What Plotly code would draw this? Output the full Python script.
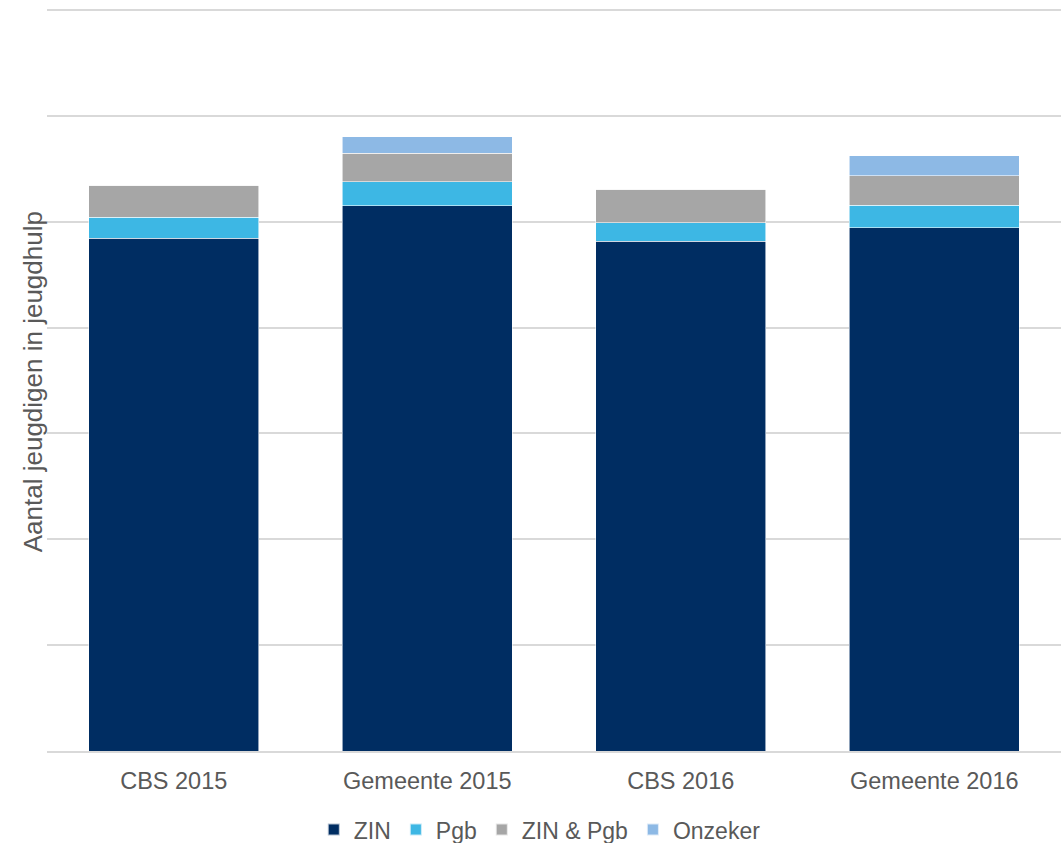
import plotly.graph_objects as go

categories = ["CBS 2015", "Gemeente 2015", "CBS 2016", "Gemeente 2016"]
zin = [484.6, 515.1, 481.4, 494.3]
pgb = [19.5, 22.6, 17.9, 21.5]
zin_pgb = [30.5, 27.1, 31.5, 27.6]
onzeker = [0, 15.4, 0, 18.9]

series = [
    ("ZIN", zin, "#002D62"),
    ("Pgb", pgb, "#3DB7E4"),
    ("ZIN & Pgb", zin_pgb, "#A6A6A6"),
    ("Onzeker", onzeker, "#8DB9E5"),
]

fig = go.Figure()
for name, vals, col in series:
    fig.add_trace(go.Bar(
        x=categories, y=vals, name=name,
        marker=dict(color=col, line=dict(color="rgba(255,255,255,0.7)", width=0.8)),
    ))

font = "Liberation Sans, Arial, sans-serif"
fig.update_layout(
    barmode="stack",
    bargap=0.33,
    width=1061, height=843,
    margin=dict(l=47, r=0, t=9, b=92, autoexpand=False),
    plot_bgcolor="white", paper_bgcolor="white",
    font=dict(family=font, size=20, color="#595959"),
    showlegend=True,
    legend=dict(orientation="h", x=0.486, xanchor="center", y=-0.106, yanchor="middle",
                font=dict(size=23, color="#595959"), itemwidth=30, traceorder="normal",
                itemsizing="constant"),
    xaxis=dict(showgrid=False, ticks="", showline=True, linecolor="#D9D9D9", linewidth=2,
               tickfont=dict(size=23.5, color="#595959"), ticklabelstandoff=8,
               automargin=False),
    yaxis=dict(range=[0, 701], dtick=100, showgrid=True, gridcolor="#D9D9D9", gridwidth=2,
               showticklabels=False, zeroline=False, automargin=False),
    annotations=[dict(text="Aantal jeugdigen in jeugdhulp", textangle=-90,
                      xref="paper", yref="paper", x=-0.0138, y=0.497,
                      xanchor="center", yanchor="middle", showarrow=False,
                      font=dict(size=26, color="#595959"))],
)

fig.write_html("out.html", config={"displayModeBar": False},
               post_script="document.body.style.margin='0';document.body.style.overflow='hidden';")
